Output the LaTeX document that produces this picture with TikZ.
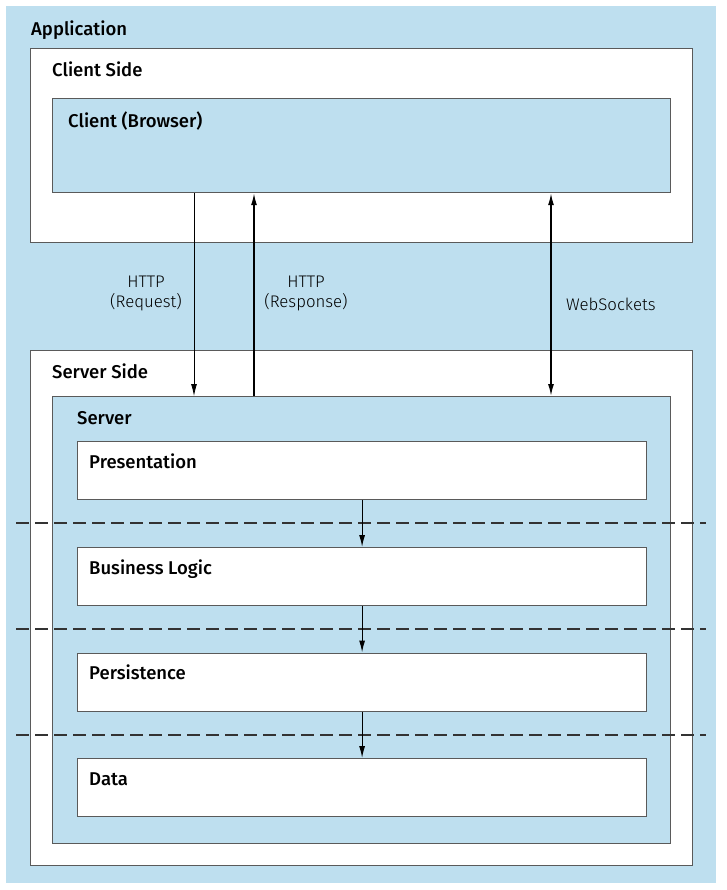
\documentclass[tikz,border=0pt]{standalone}
\usepackage{fontspec}
\setmainfont{Fira Sans}
\newfontfamily\headfont{Fira Sans Medium}
\newfontfamily\labelfont{Fira Sans Light}
\usetikzlibrary{arrows.meta}
\definecolor{appblue}{HTML}{BEDFEF}
\definecolor{boxline}{HTML}{5A5A5A}
\tikzset{
  box/.style={draw=boxline, line width=1.2pt, anchor=north west, inner sep=0pt},
  title/.style={anchor=base west, inner sep=0pt, font=\headfont\fontsize{18.5}{22}\selectfont},
  conn/.style={align=center, inner sep=0pt, font=\labelfont\fontsize{16.8}{20}\selectfont},
  tip/.style={-{Latex[length=12pt,width=6pt]}},
  layerline/.style={dashed, dash pattern=on 13pt off 6pt, line width=1.2pt, draw=black!80}
}
\begin{document}
\begin{tikzpicture}[x=1pt,y=-1pt]
        \useasboundingbox (0,0) rectangle (726,890);
        \fill[appblue] (6,6) rectangle (716,883);
        \node[title] (apptitle) at (31,35.5) {Application};
        % client side
        \node[box, fill=white, minimum width=662pt, minimum height=194pt] (clientside) at (30,48) {};
        \node[title] (clientsidetitle) at (52,76.5) {Client Side};
        \node[box, fill=appblue, minimum width=618pt, minimum height=94pt] (client) at (52,98) {};
        \node[title] (clienttitle) at (68,127.5) {Client (Browser)};
        % server side
        \node[box, fill=white, minimum width=662pt, minimum height=515pt] (serverside) at (30,350) {};
        \node[title] (serversidetitle) at (52,378.5) {Server Side};
        \node[box, fill=appblue, minimum width=618pt, minimum height=447pt] (server) at (52,396) {};
        \node[title] (servertitle) at (77,424) {Server};
        \foreach \name/\txt/\y in {pres/Presentation/441, logic/Business Logic/547, persist/Persistence/652.5, data/Data/758}
          {
            \node[box, fill=white, minimum width=569pt, minimum height=58pt] (\name) at (77,\y) {};
            \node[title] (\name title) at (89,\y+27) {\txt};
          }
        % layer borders
        \foreach \y in {523,629,735}
          \draw[layerline] (16,\y) -- (706,\y);
        \draw[tip, line width=1.2pt] (pres.south) -- (logic.north);
        \draw[tip, line width=1.2pt] (logic.south) -- (persist.north);
        \draw[tip, line width=1.2pt] (persist.south) -- (data.north);
        % client <-> server
        \coordinate (req) at (194,0);
        \coordinate (resp) at (254,0);
        \coordinate (ws) at (551,0);
        \draw[tip, line width=0.8pt] (client.south -| req) -- (server.north -| req);
        \draw[tip, line width=1.5pt] (server.north -| resp) -- (client.south -| resp);
        \draw[{Latex[length=12pt,width=6pt]}-{Latex[length=12pt,width=6pt]}, line width=1.5pt] (client.south -| ws) -- (server.north -| ws);
        \node[conn] (reqlbl) at (146,293) {HTTP\\(Request)};
        \node[conn] (resplbl) at (306,293) {HTTP\\(Response)};
        \node[conn, anchor=west] (wslbl) at (566,304) {WebSockets};
\end{tikzpicture}
\end{document}
